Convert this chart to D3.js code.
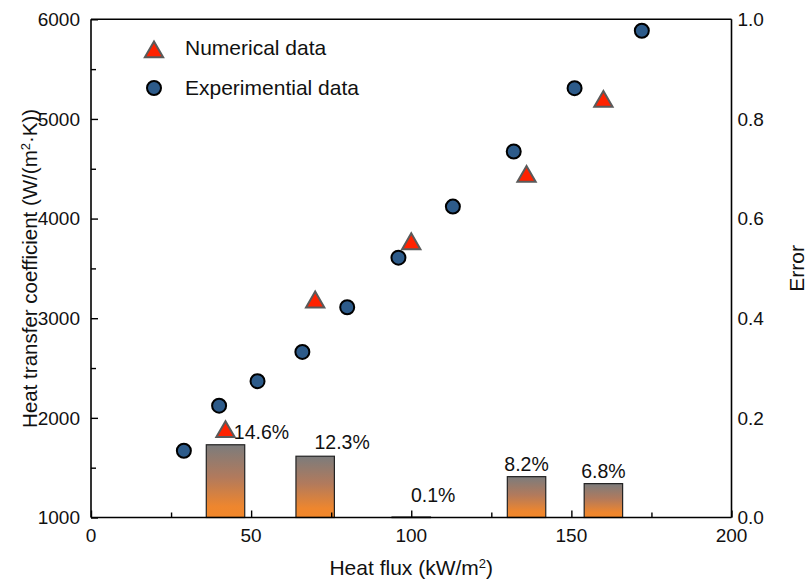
<!DOCTYPE html>
<html>
<head>
<meta charset="utf-8">
<script src="https://cdn.jsdelivr.net/npm/d3@7"></script>
<style>
  html, body { margin: 0; padding: 0; background: #fff; }
  svg text { font-family: "Liberation Sans", Arial, Helvetica, sans-serif; fill: #111; }
</style>
</head>
<body>
<svg id="chart" width="807" height="581"></svg>
<script>
// Experimental measurements: heat flux (kW/m²) vs. heat transfer coefficient (W/(m²·K))
const expFlux = [29, 40, 52, 66, 80, 96, 113, 132, 151, 172];
const expHTC  = [1670, 2122, 2368, 2662, 3110, 3608, 4120, 4673, 5309, 5885];

// Numerical results
const numFlux = [42, 70, 100, 136, 160];
const numHTC  = [1861, 3161, 3746, 4422, 5175];

// Relative error between numerical and experimental values
const errFlux  = [42, 70, 100, 136, 160];
const errValue = [0.146, 0.123, 0.001, 0.082, 0.068];
const errLabel = ["14.6%", "12.3%", "0.1%", "8.2%", "6.8%"];

// Axis ticks
const xTicks = [0, 50, 100, 150, 200];
const yTicks = [1000, 2000, 3000, 4000, 5000, 6000];
const y2Ticks = [0.0, 0.2, 0.4, 0.6, 0.8, 1.0];

const svg = d3.select("#chart");
const pLeft = 91, pRight = 731.5, pTop = 19.3, pBottom = 517.5;

const x = d3.scaleLinear().domain([0, 200]).range([pLeft, pRight]);
const y = d3.scaleLinear().domain([1000, 6000]).range([pBottom, pTop]);
const y2 = d3.scaleLinear().domain([0, 1]).range([pBottom, pTop]);

// gradient for error bars: grey at the top fading into orange
const defs = svg.append("defs");
const grad = defs.append("linearGradient")
  .attr("id", "barGrad").attr("x1", 0).attr("y1", 0).attr("x2", 0).attr("y2", 1);
grad.append("stop").attr("offset", "0%").attr("stop-color", "#7c7c7c");
grad.append("stop").attr("offset", "45%").attr("stop-color", "#b27a5c");
grad.append("stop").attr("offset", "85%").attr("stop-color", "#ee862e");
grad.append("stop").attr("offset", "100%").attr("stop-color", "#f2872a");

// error bars
const barWidth = 12; // in heat-flux units
const bars = errFlux.map((f, i) => ({ f, v: errValue[i], label: errLabel[i] }));
svg.append("g").selectAll("rect").data(bars).join("rect")
  .attr("x", d => x(d.f - barWidth / 2))
  .attr("width", d => x(d.f + barWidth / 2) - x(d.f - barWidth / 2))
  .attr("y", d => y2(d.v))
  .attr("height", d => Math.max(0.6, y2(0) - y2(d.v)))
  .attr("fill", "url(#barGrad)")
  .attr("stroke", "#222").attr("stroke-width", 1.2);

// percentage labels, nudged sideways where a marker sits above the bar
const labelDx = [36, 27, 22, 0, 0];
const labelDy = [-6, -7, -15, -6, -6];
svg.append("g").selectAll("text").data(bars).join("text")
  .attr("x", (d, i) => x(d.f) + labelDx[i])
  .attr("y", (d, i) => y2(d.v) + labelDy[i])
  .attr("text-anchor", "middle")
  .attr("font-size", 19.5)
  .text(d => d.label);

// axes frame
const frame = svg.append("g").attr("fill", "none").attr("stroke", "#000").attr("stroke-width", 1.6);
frame.append("line").attr("x1", pLeft).attr("x2", pRight).attr("y1", pBottom).attr("y2", pBottom);
frame.append("line").attr("x1", pLeft).attr("x2", pRight).attr("y1", pTop).attr("y2", pTop);
frame.append("line").attr("x1", pLeft).attr("x2", pLeft).attr("y1", pTop).attr("y2", pBottom);
frame.append("line").attr("x1", pRight).attr("x2", pRight).attr("y1", pTop).attr("y2", pBottom);

// bottom axis (ticks pointing inward)
const xAxis = svg.append("g").attr("transform", `translate(0,${pBottom})`)
  .call(d3.axisBottom(x).tickValues(d3.range(0, 201, 25)).tickSize(-5).tickFormat(""));
xAxis.selectAll(".tick line").attr("stroke-width", 1.4)
  .filter(d => d % 50 === 0).attr("y2", -7);
xAxis.select(".domain").remove();
svg.append("g").selectAll("text").data(xTicks).join("text")
  .attr("x", d => x(d)).attr("y", pBottom + 24)
  .attr("text-anchor", "middle").attr("font-size", 19)
  .text(d => d);

// left axis
const yAxis = svg.append("g").attr("transform", `translate(${pLeft},0)`)
  .call(d3.axisLeft(y).tickValues(d3.range(1000, 6001, 500)).tickSize(-5).tickFormat(""));
yAxis.selectAll(".tick line").attr("stroke-width", 1.4)
  .filter(d => d % 1000 === 0).attr("x2", 7);
yAxis.select(".domain").remove();
svg.append("g").selectAll("text").data(yTicks).join("text")
  .attr("x", pLeft - 11).attr("y", d => y(d)).attr("dy", "0.35em")
  .attr("text-anchor", "end").attr("font-size", 19)
  .text(d => d);

// right axis labels
svg.append("g").selectAll("text").data(y2Ticks).join("text")
  .attr("x", pRight + 6).attr("y", d => y2(d)).attr("dy", "0.35em")
  .attr("text-anchor", "start").attr("font-size", 19)
  .text(d => d.toFixed(1));

// axis titles
const xt = svg.append("text").attr("x", (pLeft + pRight) / 2).attr("y", 575)
  .attr("text-anchor", "middle").attr("font-size", 21);
xt.append("tspan").text("Heat flux (kW/m");
xt.append("tspan").attr("baseline-shift", "super").attr("font-size", 13).text("2");
xt.append("tspan").text(")");

const yt = svg.append("text").attr("transform", `translate(37,${(pTop + pBottom) / 2}) rotate(-90)`)
  .attr("text-anchor", "middle").attr("font-size", 20.5);
yt.append("tspan").text("Heat transfer coefficient (W/(m");
yt.append("tspan").attr("baseline-shift", "super").attr("font-size", 13).text("2");
yt.append("tspan").text("·K))");

svg.append("text").attr("transform", `translate(804,${(pTop + pBottom) / 2}) rotate(-90)`)
  .attr("text-anchor", "middle").attr("font-size", 21).text("Error");

// markers
const triangle = d3.symbol().type(d3.symbolTriangle).size(145);
const numPts = numFlux.map((f, i) => ({ f, h: numHTC[i] }));
const expPts = expFlux.map((f, i) => ({ f, h: expHTC[i] }));

svg.append("g").selectAll("circle").data(expPts).join("circle")
  .attr("cx", d => x(d.f)).attr("cy", d => y(d.h)).attr("r", 7)
  .attr("fill", "#2d5b8a").attr("stroke", "#000").attr("stroke-width", 2);

svg.append("g").selectAll("path").data(numPts).join("path")
  .attr("d", triangle)
  .attr("transform", d => `translate(${x(d.f)},${y(d.h)})`)
  .attr("fill", "#ff2200").attr("stroke", "#5a5a5a").attr("stroke-width", 2)
  .attr("stroke-linejoin", "miter");

// legend
const legend = svg.append("g");
legend.append("path").attr("d", triangle)
  .attr("transform", "translate(154,52)")
  .attr("fill", "#ff2200").attr("stroke", "#5a5a5a").attr("stroke-width", 2);
legend.append("text").attr("x", 185).attr("y", 48).attr("dy", "0.35em")
  .attr("font-size", 21).text("Numerical data");
legend.append("circle").attr("cx", 154).attr("cy", 88).attr("r", 7)
  .attr("fill", "#2d5b8a").attr("stroke", "#000").attr("stroke-width", 2);
legend.append("text").attr("x", 185).attr("y", 88).attr("dy", "0.35em")
  .attr("font-size", 21).text("Experimential data");
</script>
</body>
</html>
